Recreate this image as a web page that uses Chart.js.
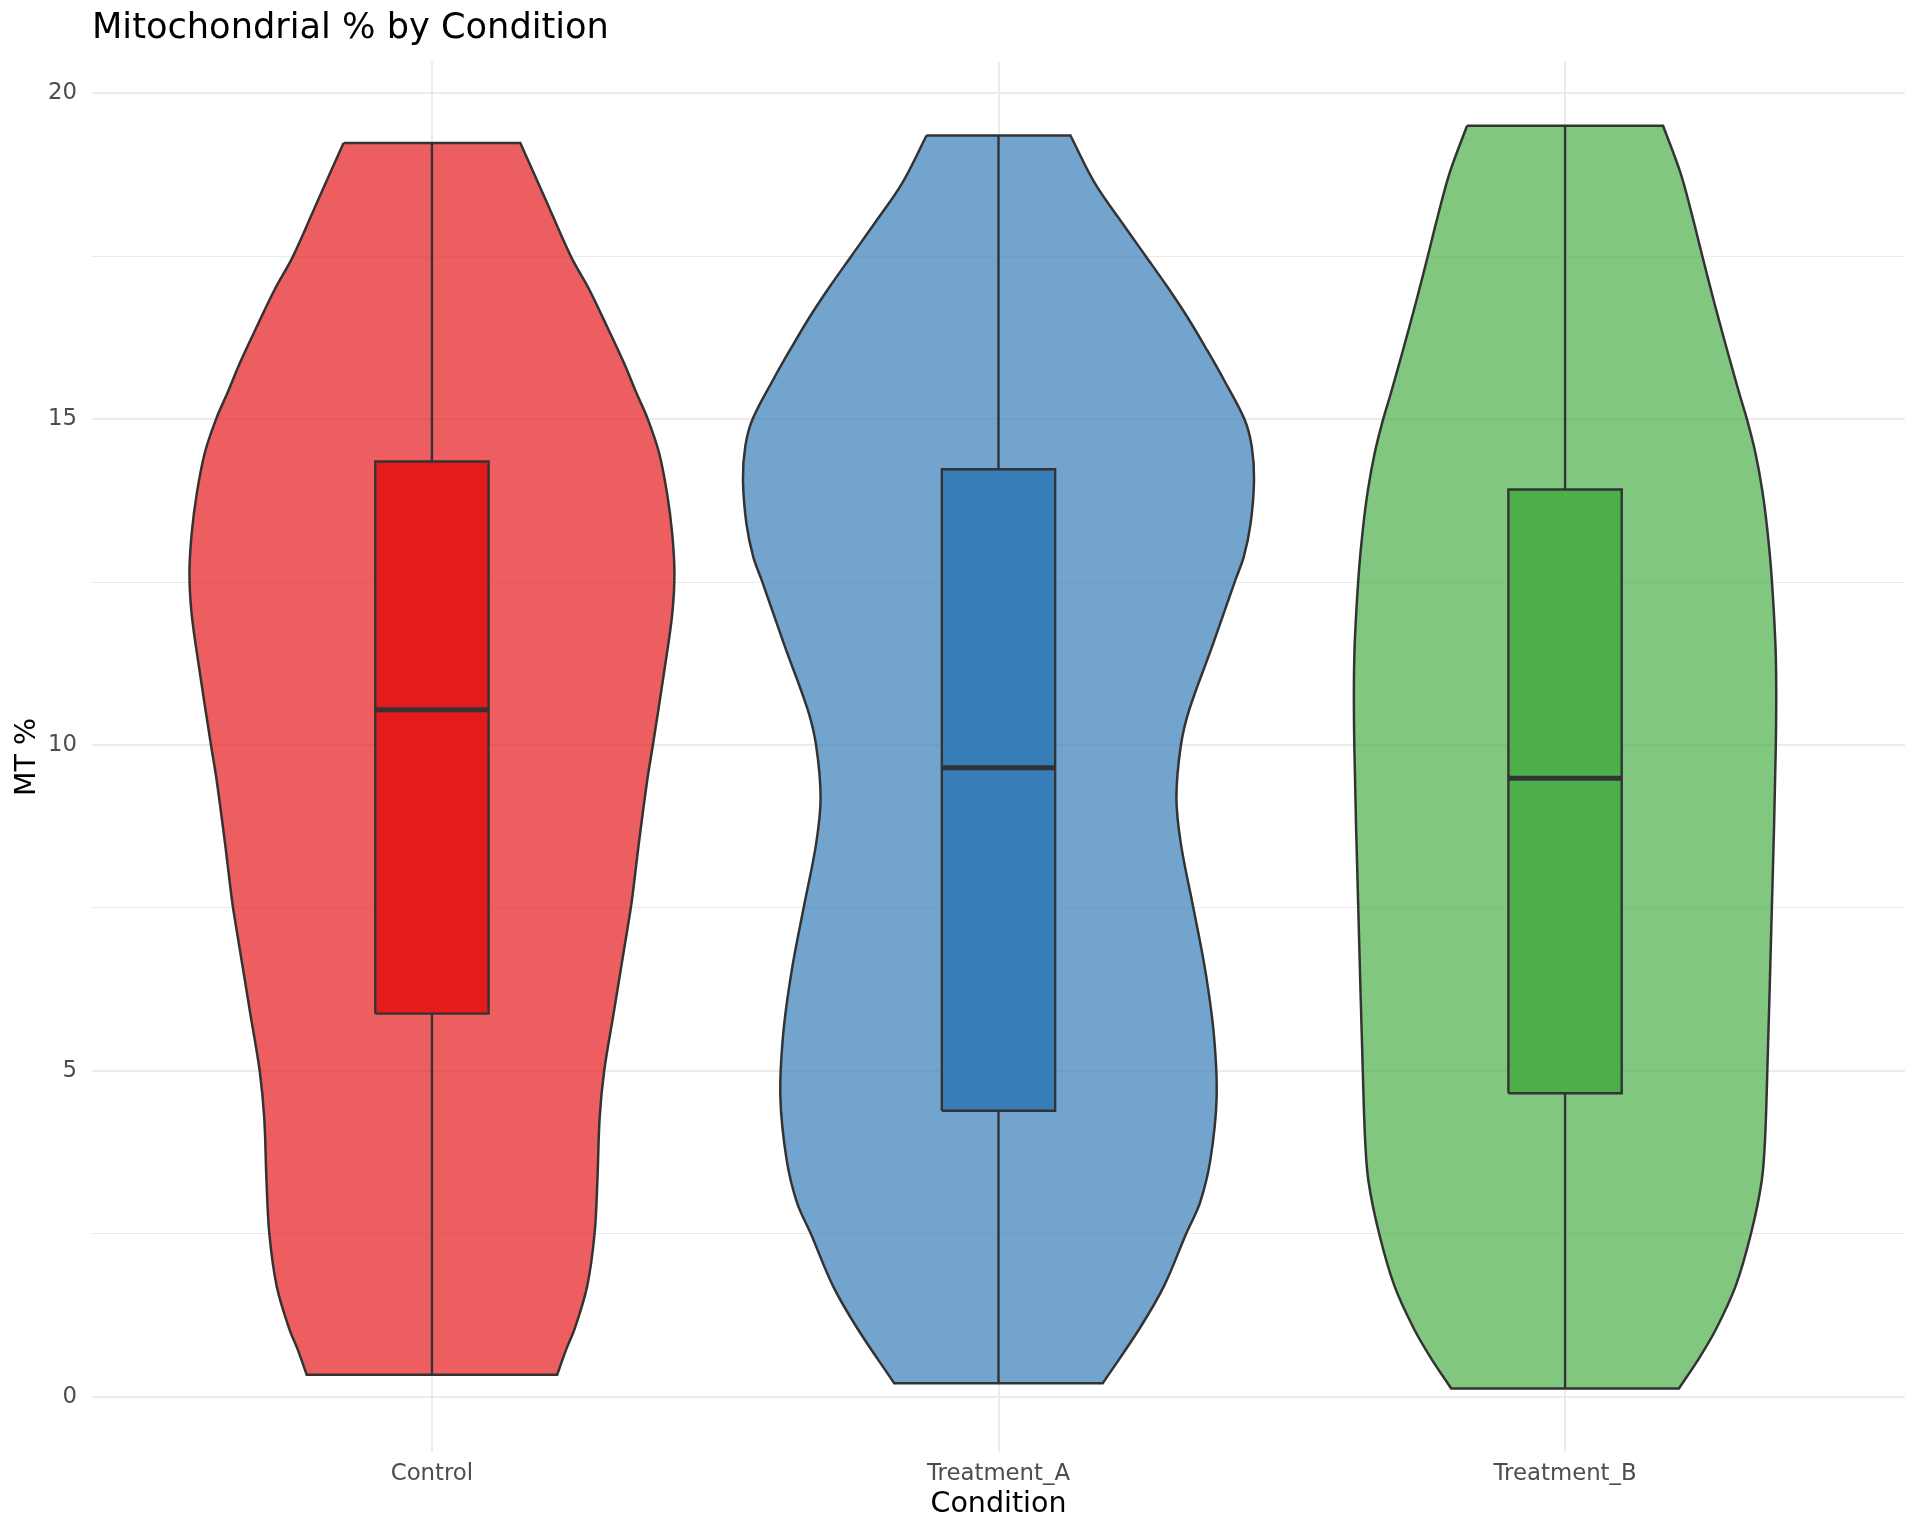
<!DOCTYPE html>
<html><head><meta charset="utf-8">
<script src="https://cdn.jsdelivr.net/npm/chart.js@4"></script>
<style>html,body{margin:0;padding:0;background:#fff}</style>
</head><body>
<canvas id="c" width="1920" height="1536" style="display:block;width:1920px;height:1536px"></canvas>
<script>
// ---- data ----
const categories = ['Control', 'Treatment_A', 'Treatment_B'];

// violin outlines: value (MT %) and half-width (in category units), top to bottom
const violinY_Control = [19.235, 18.4, 17.5, 16.98, 16.42, 15.86, 15.4, 15.0, 14.48, 13.86, 13.25, 12.63, 12.0, 11.19, 10.0, 9.46, 8.48, 7.83, 7.5, 6.86, 5.9, 5.0, 4.28, 3.31, 2.5, 1.7, 1.05, 0.73, 0.34];
const violinW_Control = [0.156, 0.199, 0.245, 0.278, 0.309, 0.339, 0.361, 0.381, 0.401, 0.415, 0.424, 0.428, 0.424, 0.411, 0.390, 0.380, 0.365, 0.356, 0.351, 0.339, 0.321, 0.304, 0.296, 0.292, 0.287, 0.274, 0.252, 0.237, 0.221];

const violinY_TreatmentA = [19.35, 18.62, 18.0, 17.51, 17.03, 16.57, 16.06, 15.6, 15.0, 14.58, 14.07, 13.4, 12.89, 12.53, 11.51, 10.55, 10.0, 9.19, 8.48, 7.5, 6.54, 5.57, 4.6, 3.64, 2.99, 2.5, 1.7, 1.05, 0.21];
const violinW_TreatmentA = [0.127, 0.170, 0.219, 0.259, 0.298, 0.333, 0.368, 0.398, 0.434, 0.447, 0.451, 0.445, 0.433, 0.418, 0.377, 0.337, 0.322, 0.314, 0.322, 0.344, 0.365, 0.380, 0.385, 0.374, 0.356, 0.331, 0.292, 0.249, 0.184];

const violinY_TreatmentB = [19.5, 18.77, 18.1, 17.51, 16.83, 16.06, 15.35, 15.0, 14.48, 13.91, 13.3, 12.53, 11.35, 10.0, 7.5, 5.0, 3.96, 3.31, 2.5, 1.7, 1.05, 0.6, 0.13];
const violinW_TreatmentB = [0.173, 0.204, 0.225, 0.242, 0.262, 0.286, 0.309, 0.321, 0.336, 0.348, 0.357, 0.365, 0.372, 0.372, 0.365, 0.357, 0.353, 0.347, 0.328, 0.301, 0.267, 0.237, 0.201];

// box plot statistics per category
const whiskerLow  = [0.34, 0.21, 0.13];
const q1          = [5.88, 4.39, 4.66];
const medians     = [10.54, 9.65, 9.49];
const q3          = [14.35, 14.23, 13.92];
const whiskerHigh = [19.235, 19.35, 19.5];

// axis ticks
const yTicks = [0, 5, 10, 15, 20];
const yMinorTicks = [2.5, 7.5, 12.5, 17.5];

// ---- styles ----
const violinFill = ['rgba(228,26,28,0.7)', 'rgba(55,126,184,0.7)', 'rgba(77,175,74,0.7)'];
const boxFill = ['#E41A1C', '#377EB8', '#4DAF4A'];
const OUTLINE = '#333333';
const BOX_HALF = 0.1;
const FONT = 'DejaVu Sans';

const violinYs = [violinY_Control, violinY_TreatmentA, violinY_TreatmentB];
const violinWs = [violinW_Control, violinW_TreatmentA, violinW_TreatmentB];

const datasets = [];
categories.forEach((cat, i) => {
  const c = i + 1;
  const ys = violinYs[i], ws = violinWs[i];
  const left = ys.map((y, k) => ({x: c - ws[k], y}));
  const right = ys.map((y, k) => ({x: c + ws[k], y})).reverse();
  // corner points are repeated so the smoothed outline keeps sharp corners at the flat ends
  const tl = left[0], bl = left[left.length - 1], br = right[0], tr = right[right.length - 1];
  const pts = [tl, ...left, bl, br, ...right, tr, tl];
  datasets.push({
    label: cat + ' violin', data: pts, order: 4,
    fill: 'shape', backgroundColor: violinFill[i], borderColor: OUTLINE, borderWidth: 2.5,
    pointRadius: 0, tension: 0.35, borderJoinStyle: 'miter'
  });
  datasets.push({
    label: cat + ' whisker', data: [{x: c, y: whiskerLow[i]}, {x: c, y: whiskerHigh[i]}], order: 3,
    fill: false, borderColor: OUTLINE, borderWidth: 2.4, pointRadius: 0, tension: 0
  });
  datasets.push({
    label: cat + ' box',
    data: [{x: c - BOX_HALF, y: q1[i]}, {x: c + BOX_HALF, y: q1[i]}, {x: c + BOX_HALF, y: q3[i]}, {x: c - BOX_HALF, y: q3[i]}, {x: c - BOX_HALF, y: q1[i]}],
    order: 2, fill: 'shape', backgroundColor: boxFill[i], borderColor: OUTLINE, borderWidth: 2.4,
    pointRadius: 0, tension: 0, borderJoinStyle: 'miter'
  });
  datasets.push({
    label: cat + ' median', data: [{x: c - BOX_HALF, y: medians[i]}, {x: c + BOX_HALF, y: medians[i]}],
    order: 1, fill: false, borderColor: OUTLINE, borderWidth: 5, pointRadius: 0, borderCapStyle: 'butt', tension: 0
  });
});

new Chart(document.getElementById('c'), {
  type: 'line',
  data: {datasets},
  options: {
    responsive: false, animation: false, events: [],
    devicePixelRatio: 1,
    layout: {padding: {left: 0, right: 15, top: 0, bottom: 0}},
    plugins: {
      legend: {display: false},
      tooltip: {enabled: false},
      title: {
        display: true, text: 'Mitochondrial % by Condition', align: 'start', fullSize: false,
        color: '#000000', font: {family: FONT, size: 35.2, weight: 'normal'},
        padding: {top: 8, bottom: 11.6}
      }
    },
    scales: {
      x: {
        type: 'linear', min: 0.4, max: 3.6,
        afterBuildTicks: s => { s.ticks = categories.map((_, i) => ({value: i + 1})); },
        afterFit: s => { s.height = 84; },
        ticks: {
          callback: v => categories[Math.round(v) - 1],
          color: '#4D4D4D', font: {family: FONT, size: 22.8}, padding: 8,
          maxRotation: 0, autoSkip: false
        },
        grid: {color: '#EBEBEB', lineWidth: 2, drawTicks: false},
        border: {display: false},
        title: {display: true, text: 'Condition', color: '#000000', font: {family: FONT, size: 28.5}, padding: {top: 0, bottom: 14}}
      },
      y: {
        type: 'linear', min: -0.844, max: 20.48,
        afterBuildTicks: s => { s.ticks = [...yTicks, ...yMinorTicks].sort((a, b) => a - b).map(v => ({value: v})); },
        afterFit: s => { s.width = 92; },
        ticks: {
          callback: v => yTicks.includes(v) ? String(v) : '',
          color: '#4D4D4D', font: {family: FONT, size: 22.8}, padding: 15, autoSkip: false
        },
        grid: {
          color: '#EBEBEB', drawTicks: false,
          lineWidth: ctx => (ctx.tick && yTicks.includes(ctx.tick.value)) ? 2 : 1.1
        },
        border: {display: false},
        title: {display: true, text: 'MT %', color: '#000000', font: {family: FONT, size: 28.5}, padding: {top: 10, bottom: 0}}
      }
    }
  }
});
</script>
</body></html>
